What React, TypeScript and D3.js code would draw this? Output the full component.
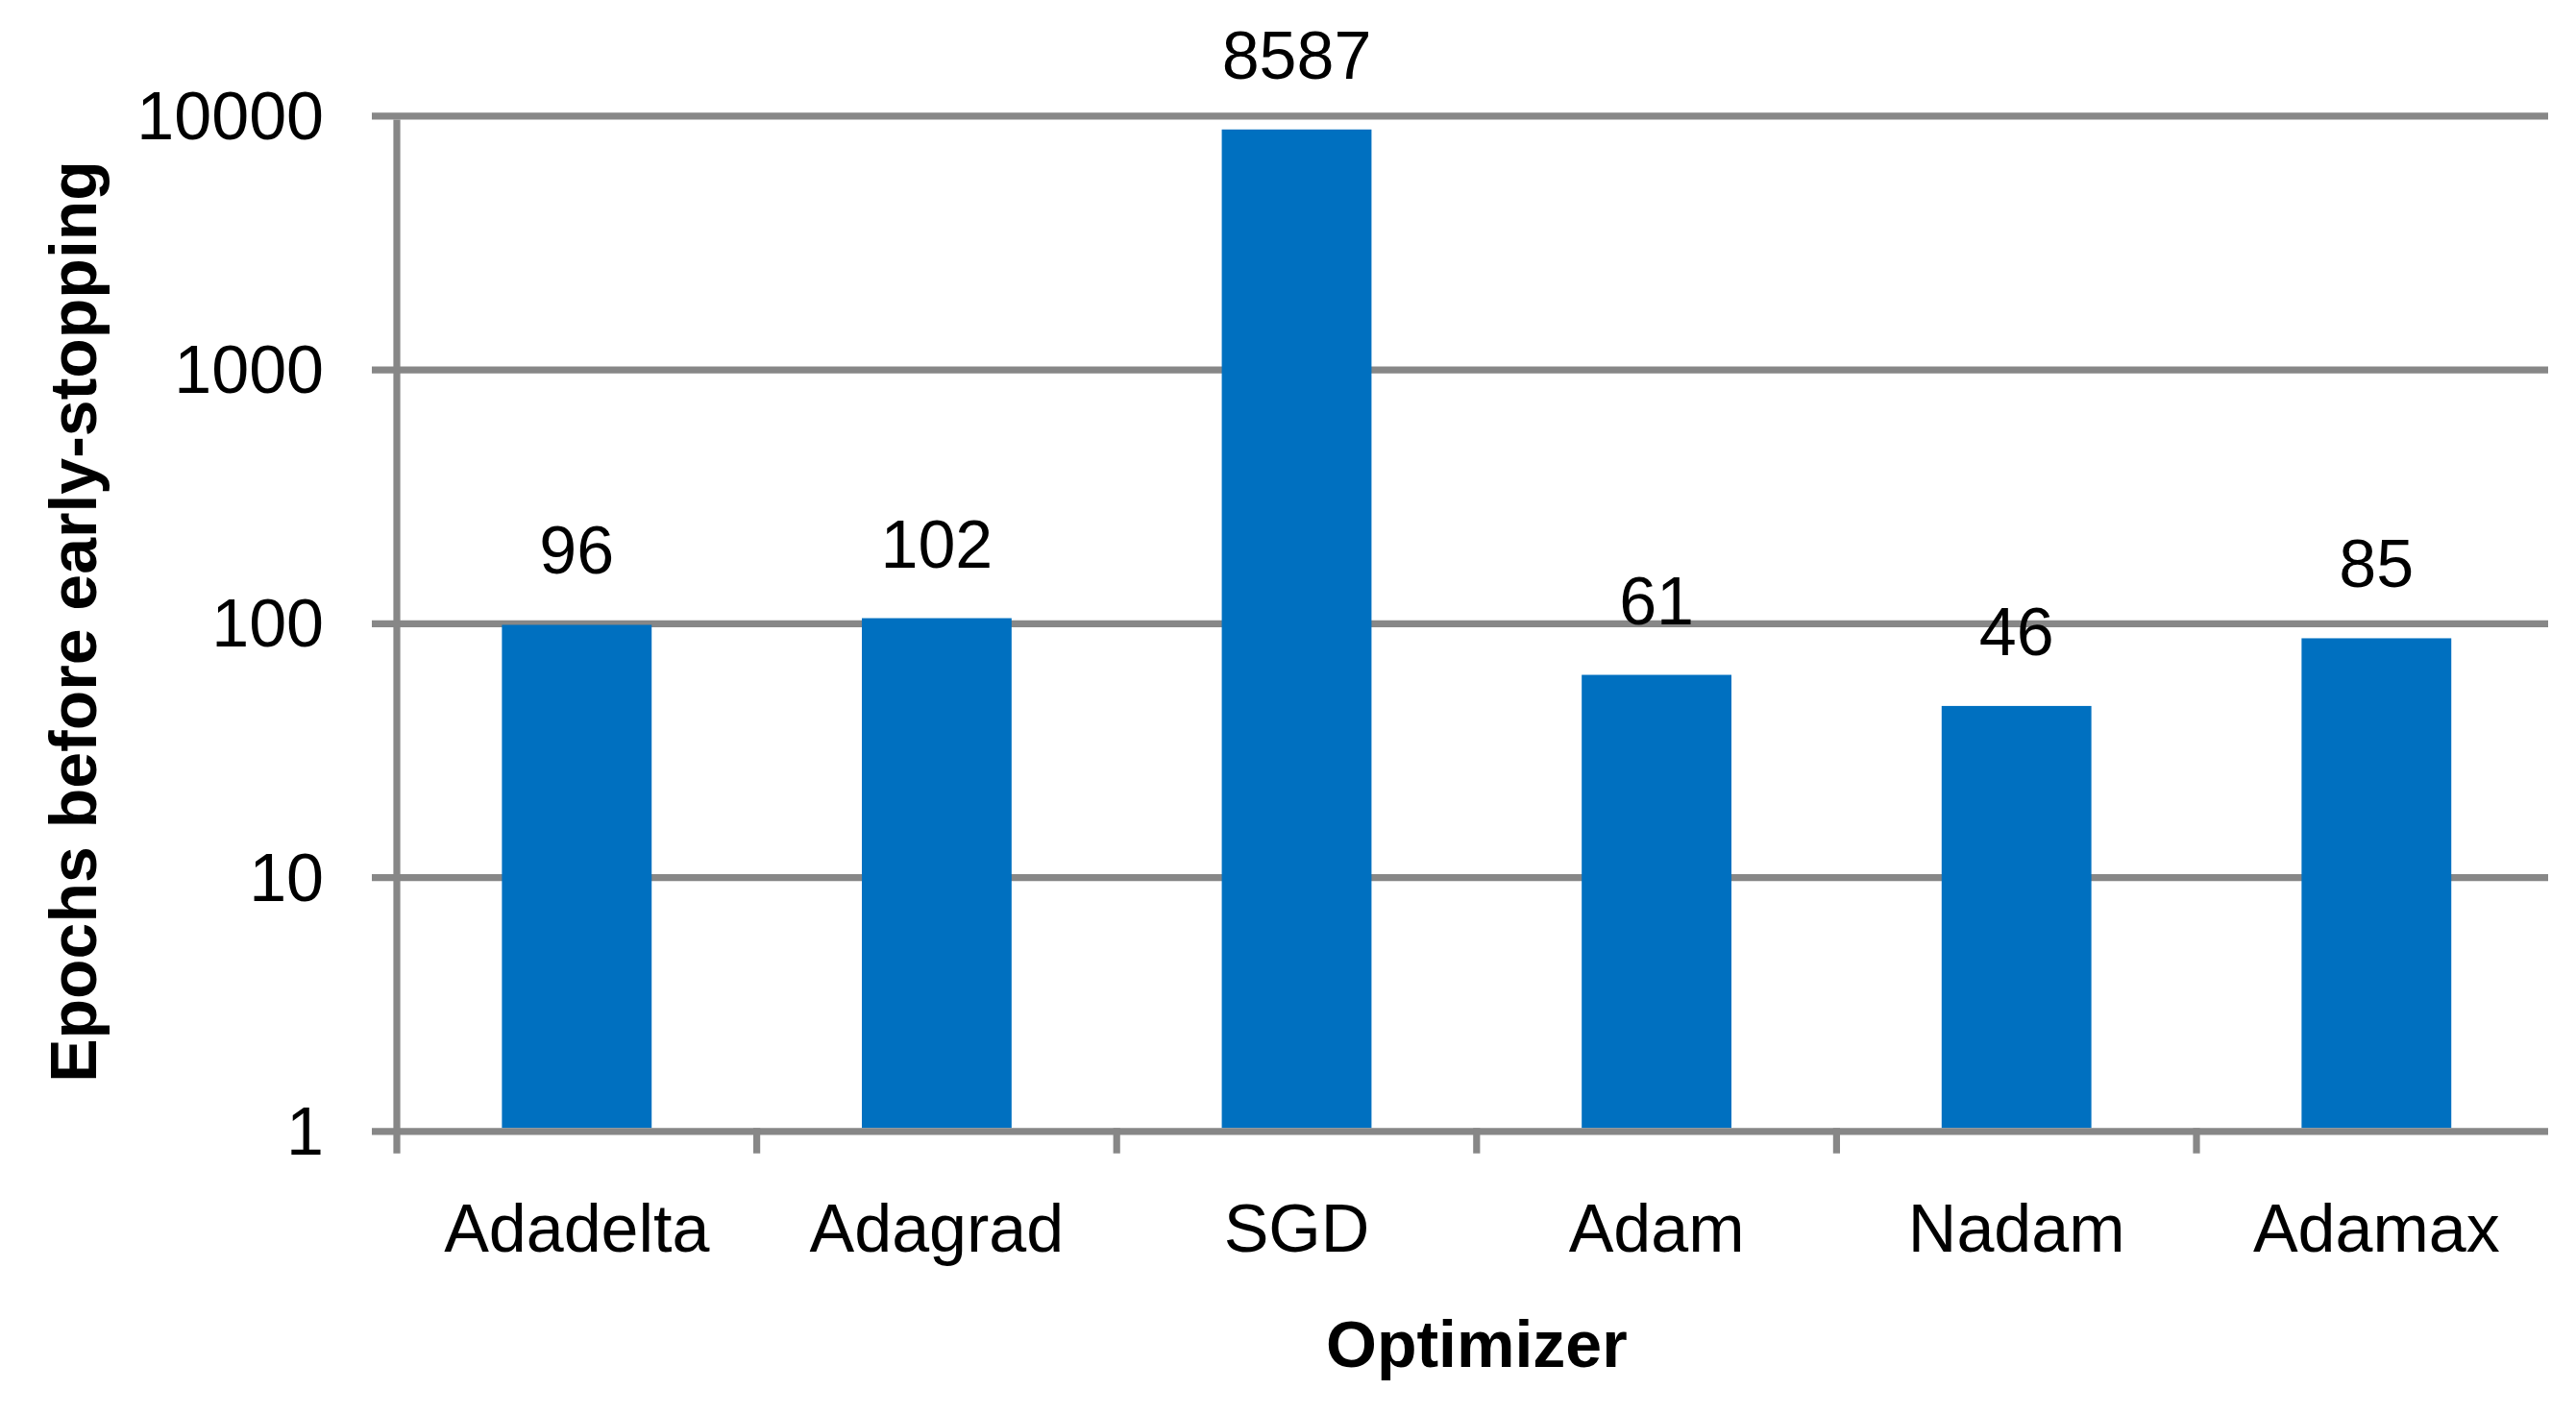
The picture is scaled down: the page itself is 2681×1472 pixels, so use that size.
import React from "react";
import * as d3 from "d3";

const categories = ["Adadelta", "Adagrad", "SGD", "Adam", "Nadam", "Adamax"];
const epochs = [96, 102, 8587, 61, 46, 85];
const yTicks = [1, 10, 100, 1000, 10000];
const yAxisTitle = "Epochs before early-stopping";
const xAxisTitle = "Optimizer";

const W = 2681;
const H = 1472;
const FONT = "'Liberation Sans', Arial, sans-serif";
const GRID = "#878787";
const BAR = "#0070C0";

export default function App() {
  const x = d3.scaleBand<string>().domain(categories).range([413, 2660.6]).padding(0);
  const y = d3.scaleLog().domain([1, 10000]).range([1174.3, 117.3]);
  const barW = x.bandwidth() * 0.416;
  const lineW = 7.2;
  const gridLeft = 387;
  const gridRight = 2652;
  const edges = categories.map((c) => x(c) as number).slice(1);

  return (
    <svg
      width={W}
      height={H}
      style={{ position: "absolute", left: 0, top: 0, background: "#fff" }}
      fontFamily={FONT}
    >
      <rect x={0} y={0} width={W} height={H} fill="#fff" />
      {yTicks
        .filter((t) => t !== 1)
        .map((t) => (
          <line
            key={"g" + t}
            x1={gridLeft}
            x2={gridRight}
            y1={y(t) + lineW / 2}
            y2={y(t) + lineW / 2}
            stroke={GRID}
            strokeWidth={lineW}
          />
        ))}
      {categories.map((c, i) => {
        const cx = (x(c) as number) + x.bandwidth() / 2;
        return (
          <rect
            key={"b" + c}
            x={cx - barW / 2}
            y={y(epochs[i])}
            width={barW}
            height={y(1) - y(epochs[i])}
            fill={BAR}
          />
        );
      })}
      <line
        x1={gridLeft}
        x2={gridRight}
        y1={y(1) + lineW / 2}
        y2={y(1) + lineW / 2}
        stroke={GRID}
        strokeWidth={lineW}
      />
      <line x1={413} x2={413} y1={y(10000) + lineW} y2={1200.7} stroke={GRID} strokeWidth={lineW} />
      {edges.map((e, i) => (
        <line key={"t" + i} x1={e} x2={e} y1={y(1)} y2={1200.7} stroke={GRID} strokeWidth={lineW} />
      ))}
      {yTicks.map((t) => (
        <text
          key={"yl" + t}
          x={337}
          y={y(t) + 3.5 + 24}
          textAnchor="end"
          fontSize={70}
          fill="#000"
        >
          {String(t)}
        </text>
      ))}
      {categories.map((c) => (
        <text
          key={"xl" + c}
          x={(x(c) as number) + x.bandwidth() / 2}
          y={1303}
          textAnchor="middle"
          fontSize={70}
          fill="#000"
        >
          {c}
        </text>
      ))}
      {categories.map((c, i) => (
        <text
          key={"dl" + c}
          x={(x(c) as number) + x.bandwidth() / 2}
          y={y(epochs[i]) - 53}
          textAnchor="middle"
          fontSize={70}
          fill="#000"
        >
          {String(epochs[i])}
        </text>
      ))}
      <text
        x={1536.8}
        y={1422.7}
        textAnchor="middle"
        fontSize={68}
        fontWeight="bold"
        fill="#000"
      >
        {xAxisTitle}
      </text>
      <text
        transform={`translate(100, 647) rotate(-90)`}
        textAnchor="middle"
        fontSize={68}
        fontWeight="bold"
        fill="#000"
      >
        {yAxisTitle}
      </text>
    </svg>
  );
}
